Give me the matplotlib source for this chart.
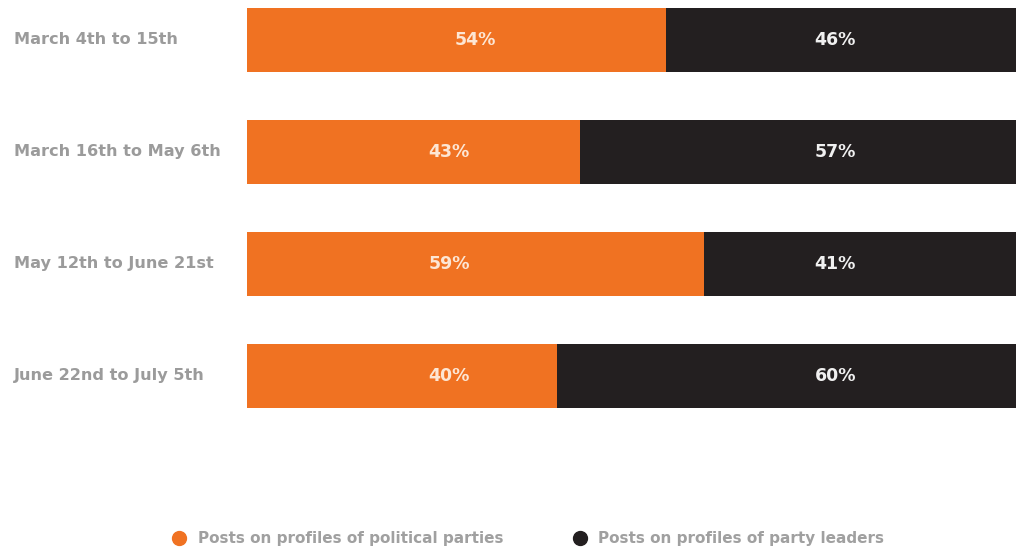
import matplotlib
matplotlib.use("Agg")
import matplotlib.pyplot as plt
from matplotlib.lines import Line2D
import matplotlib.transforms as mtransforms

categories = ["March 4th to 15th", "March 16th to May 6th",
              "May 12th to June 21st", "June 22nd to July 5th"]
parties = [54, 43, 59, 40]
leaders = [46, 57, 41, 60]
series_names = ["Posts on profiles of political parties",
                "Posts on profiles of party leaders"]

ORANGE = "#F07222"
DARK = "#231F20"
GREY = "#9B9B9B"
FONT = "DejaVu Sans"

W, H = 1016, 550
fig = plt.figure(figsize=(W / 100, H / 100), dpi=100)
# axes spans x 247..1022 px (bars run slightly past right edge)
ax = fig.add_axes([247 / W, 0, 775 / W, 1])
ax.set_xlim(0, 100)
step = 112.0
ax.set_ylim(3 + (H - 376) / step, -40 / step)
ax.axis("off")

ypos = list(range(len(categories)))
ax.barh(ypos, parties, height=0.58, color=ORANGE, linewidth=0)
ax.barh(ypos, leaders, left=parties, height=0.58, color=DARK, linewidth=0)

orange_label_x = [29.5, 26.1, 26.1, 26.1]
dark_label_x = [75.9, 75.9, 75.9, 75.9]
for i in ypos:
    ax.text(orange_label_x[i], i, f"{parties[i]}%", ha="center", va="center",
            color="#FDE6D4", fontsize=12.5, fontweight="bold", family=FONT)
    ax.text(dark_label_x[i], i, f"{leaders[i]}%", ha="center", va="center",
            color="#F0F0F0", fontsize=12.5, fontweight="bold", family=FONT)

trans = mtransforms.blended_transform_factory(fig.transFigure, ax.transData)
for i, c in enumerate(categories):
    ax.text(14 / W, i, c, transform=trans, ha="left", va="center",
            color=GREY, fontsize=11.6, fontweight="bold", family=FONT)

handles = [Line2D([], [], marker="o", linestyle="", markersize=10,
                  markerfacecolor=ORANGE, markeredgecolor=ORANGE),
           Line2D([], [], marker="o", linestyle="", markersize=10,
                  markerfacecolor=DARK, markeredgecolor=DARK)]
fig.legend(handles, series_names, loc="center", bbox_to_anchor=(524 / W, 1 - 539 / H),
           ncol=2, frameon=False, handletextpad=0.2, columnspacing=4.0,
           prop={"family": FONT, "size": 11, "weight": "bold"}, labelcolor="#A0A0A0")

fig.savefig("out.png", dpi=100, facecolor="white")
